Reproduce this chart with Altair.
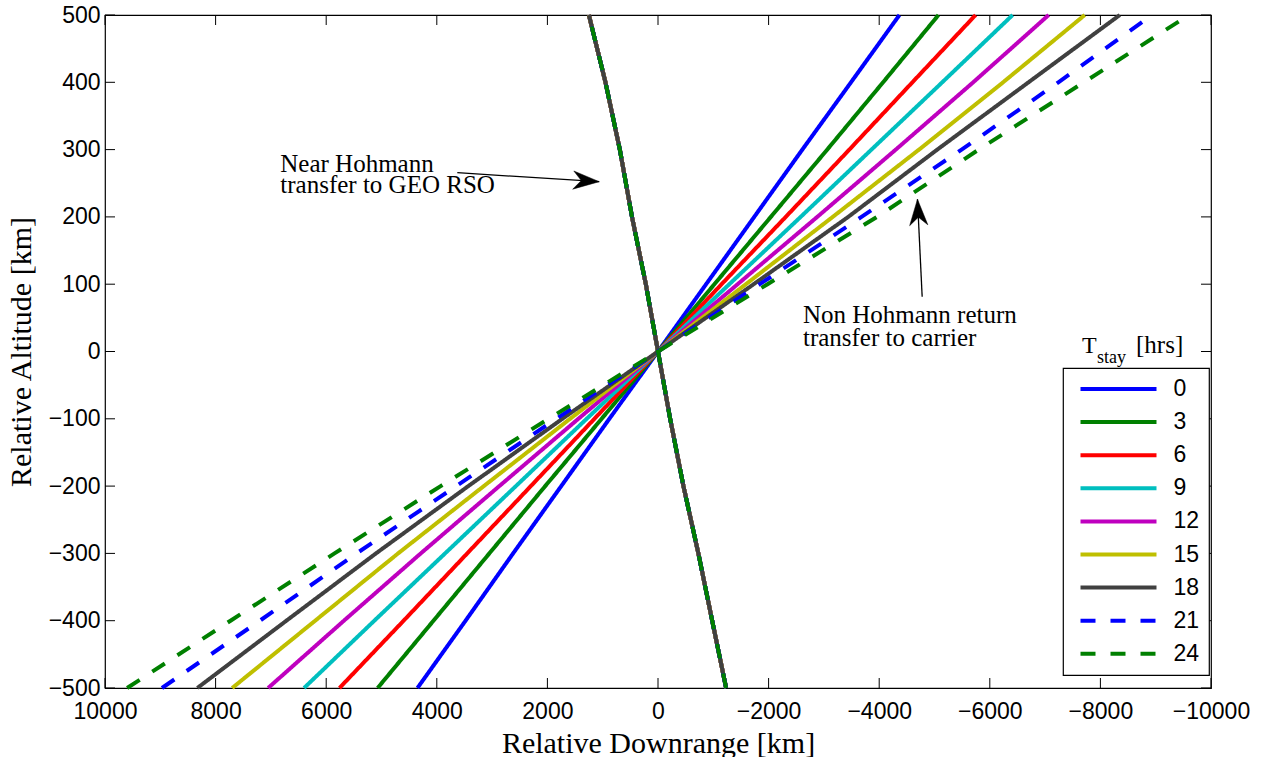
import altair as alt
import pandas as pd

# ---------------- data ----------------
T_LABELS = ["0", "3", "6", "9", "12", "15", "18", "21", "24"]
COLORS = ["#0000ff", "#008000", "#ff0000", "#00bfbf", "#bf00bf",
          "#bfbf00", "#404040", "#0000ff", "#008000"]
DASHES = [[1, 0]] * 7 + [[15, 15], [15, 15]]

ALTITUDE = [-500, -400, -300, -200, -100, 0, 100, 200, 300, 400, 500]

# near-Hohmann transfer branch (common to every T_stay)
NEAR_X = [-1232, -980, -730, -460, -220, 0, 220, 470, 690, 950, 1250]

# non-Hohmann return branch, one list per T_stay
RET_0 = [4350, 3480, 2620, 1750, 880, 0, -870, -1740, -2610, -3490, -4366]
RET_3 = [5070, 4060, 3050, 2040, 1020, 0, -1020, -2040, -3060, -4070, -5072]
RET_6 = [5760, 4600, 3450, 2300, 1150, 0, -1150, -2310, -3460, -4600, -5743]
RET_9 = [6400, 5130, 3850, 2570, 1290, 0, -1290, -2580, -3860, -5140, -6413]
RET_12 = [7050, 5680, 4290, 2870, 1440, 0, -1440, -2880, -4300, -5700, -7065]
RET_15 = [7700, 6200, 4700, 3150, 1590, 0, -1590, -3160, -4720, -6240, -7717]
RET_18 = [8330, 6720, 5100, 3430, 1730, 0, -1730, -3440, -5050, -6700, -8351]
RET_21 = [8970, 7200, 5450, 3650, 1840, 0, -1840, -3680, -5490, -7240, -8931]
RET_24 = [9600, 7730, 5850, 3930, 1980, 0, -1980, -3960, -5800, -7700, -9601]
RETURNS = [RET_0, RET_3, RET_6, RET_9, RET_12, RET_15, RET_18, RET_21, RET_24]

X_TICKS = [10000, 8000, 6000, 4000, 2000, 0, -2000, -4000, -6000, -8000, -10000]
Y_TICKS = [-500, -400, -300, -200, -100, 0, 100, 200, 300, 400, 500]

# ---------------- tables ----------------
rows = []
for i, t in enumerate(T_LABELS):
    for branch, xs in (("near", NEAR_X), ("return", RETURNS[i])):
        for j, (a, x) in enumerate(zip(ALTITUDE, xs)):
            rows.append({"T": t, "seg": f"{i:02d}-{branch}", "idx": j,
                         "x": x, "alt": a})
df = pd.DataFrame(rows)

W, H = 1106, 673
FRAME = "#000000"

xscale = alt.Scale(domain=[-10000, 10000], reverse=True, nice=False, zero=False)
yscale = alt.Scale(domain=[-500, 500], nice=False, zero=False)

legend = alt.Legend(
    title=None, orient="none", legendX=958, legendY=353,
    symbolType="stroke", symbolSize=5776, symbolStrokeWidth=4,
    symbolOffset=6.5, clipHeight=24,
    labelFont="Liberation Sans", labelFontSize=23, labelColor="black",
    labelOffset=15, fillColor="white", strokeColor="black",
    padding=9, rowPadding=9.1,
)

lines = alt.Chart(df).mark_line(strokeWidth=4, strokeCap="butt").encode(
    x=alt.X("x:Q", scale=xscale,
            axis=alt.Axis(values=X_TICKS, title="Relative Downrange [km]",
                          format="d",
                          grid=False, ticks=False, domain=False,
                          labelFlush=False, labelOverlap=False,
                          labelPadding=12, titlePadding=5)),
    y=alt.Y("alt:Q", scale=yscale,
            axis=alt.Axis(values=Y_TICKS, title="Relative Altitude [km]",
                          format="d",
                          grid=False, ticks=False, domain=False,
                          labelFlush=False, labelOverlap=False,
                          labelPadding=5, titlePadding=12)),
    color=alt.Color("T:N", scale=alt.Scale(domain=T_LABELS, range=COLORS),
                    legend=legend),
    strokeDash=alt.StrokeDash("T:N", scale=alt.Scale(domain=T_LABELS, range=DASHES),
                              legend=legend),
    detail="seg:N",
    order="idx:Q",
)

# inward tick marks on all four sides
xt = pd.DataFrame({"x": X_TICKS})
yt = pd.DataFrame({"alt": Y_TICKS})
TL = 10
tick_style = dict(color=FRAME, strokeWidth=1)
xb = alt.Chart(xt).mark_rule(**tick_style).encode(
    x=alt.X("x:Q", scale=xscale), y=alt.value(H), y2=alt.value(H - TL))
xtop = alt.Chart(xt).mark_rule(**tick_style).encode(
    x=alt.X("x:Q", scale=xscale), y=alt.value(0), y2=alt.value(TL))
yl = alt.Chart(yt).mark_rule(**tick_style).encode(
    y=alt.Y("alt:Q", scale=yscale), x=alt.value(0), x2=alt.value(TL))
yr = alt.Chart(yt).mark_rule(**tick_style).encode(
    y=alt.Y("alt:Q", scale=yscale), x=alt.value(W), x2=alt.value(W - TL))

# annotations
ann_text = pd.DataFrame({
    "x": [6830, 6830, -2621, -2621],
    "alt": [267, 235, 42.8, 8.6],
    "text": ["Near Hohmann", "transfer to GEO RSO",
             "Non Hohmann return", "transfer to carrier"],
})
texts = alt.Chart(ann_text).mark_text(
    align="left", baseline="alphabetic", font="Liberation Serif",
    fontSize=25, color="black").encode(
    x=alt.X("x:Q", scale=xscale), y=alt.Y("alt:Q", scale=yscale), text="text:N")

arrows = pd.DataFrame({
    "x": [3629, -4777], "alt": [265.7, 81.4],
    "x2": [1063, -4692], "alt2": [252.3, 226.2],
    "ang": [93.6, 357.2],
})
arrow_lines = alt.Chart(arrows).mark_rule(color="black", strokeWidth=1.3).encode(
    x=alt.X("x:Q", scale=xscale), y=alt.Y("alt:Q", scale=yscale),
    x2="x2:Q", y2="alt2:Q")
HEAD = "M0,0 L0.7,2 L0,1.38 L-0.7,2 Z"
arrow_heads = alt.Chart(arrows).mark_point(
    shape=HEAD, size=676, filled=True, fill="black", stroke="black",
    strokeWidth=0.5, opacity=1).encode(
    x=alt.X("x2:Q", scale=xscale), y=alt.Y("alt2:Q", scale=yscale),
    angle=alt.Angle("ang:Q", scale=None))

# legend title  T_stay [hrs]
ttl = pd.DataFrame({"t": ["T", "stay", "[hrs]"],
                    "px": [977, 992, 1031], "py": [338, 348, 338],
                    "fs": [24, 18, 25]})
title_parts = []
for _, r in ttl.iterrows():
    title_parts.append(
        alt.Chart(pd.DataFrame({"t": [r["t"]]})).mark_text(
            align="left", baseline="alphabetic", font="Liberation Serif",
            fontSize=float(r["fs"]), color="black").encode(
            x=alt.value(float(r["px"])), y=alt.value(float(r["py"])), text="t:N"))

chart = alt.layer(lines, xb, xtop, yl, yr, arrow_lines, arrow_heads, texts,
                  *title_parts).properties(
    width=W, height=H,
    padding={"left": 105, "top": 15, "right": 61, "bottom": 69},
    autosize=alt.AutoSizeParams(type="none"),
    background="white",
).configure_view(stroke=FRAME, strokeWidth=1.2).configure_axis(
    labelFont="Liberation Sans", labelFontSize=23, labelColor="black",
    titleFont="Liberation Serif", titleFontSize=30, titleFontWeight="normal",
    titleColor="black",
).configure_legend(strokeWidth=1.2)

chart.save("out.html", embed_options={"renderer": "svg", "actions": False})
